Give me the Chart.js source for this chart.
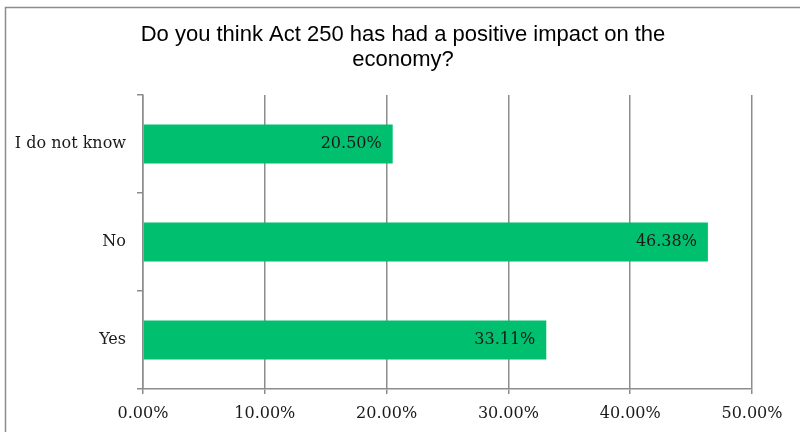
<!DOCTYPE html>
<html>
<head>
<meta charset="utf-8">
<script src="https://cdn.jsdelivr.net/npm/chart.js@4"></script>
<style>
  html, body { margin: 0; padding: 0; background: #fff; overflow: hidden; }
  #wrap { position: relative; width: 800px; height: 432px; }
</style>
</head>
<body>
<div id="wrap"><canvas id="chart" width="800" height="432"></canvas></div>
<script>
// data
const answers = ["I do not know", "No", "Yes"];
const shares = [20.50, 46.38, 33.11];
const titleLines = ["Do you think Act 250 has had a positive impact on the", "economy?"];

const grey = "#8c8c8c";
const serif = "'DejaVu Serif', serif";

// frame around the chart (cropped on the right and bottom)
const framePlugin = {
  id: "frame",
  beforeDraw(chart) {
    const c = chart.ctx;
    c.save();
    c.fillStyle = "#fff";
    c.fillRect(0, 0, chart.width, chart.height);
    c.strokeStyle = grey;
    c.lineWidth = 1.5;
    c.strokeRect(5.5, 7.5, chart.width + 200, chart.height + 200);
    c.restore();
  }
};

// value labels inside the bar ends
const valueLabels = {
  id: "valueLabels",
  afterDatasetsDraw(chart) {
    const c = chart.ctx;
    const meta = chart.getDatasetMeta(0);
    c.save();
    c.font = "16px " + serif;
    c.fillStyle = "#1a1a1a";
    c.textAlign = "right";
    c.textBaseline = "middle";
    meta.data.forEach(function (bar, i) {
      c.fillText(shares[i].toFixed(2) + "%", bar.x - 11, bar.y);
    });
    c.restore();
  }
};

const place = document.getElementById("chart");
const surveyChart = new Chart(place, {
  type: "bar",
  data: {
    labels: answers,
    datasets: [{
      data: shares,
      backgroundColor: "#00bf6f",
      borderWidth: 0,
      barPercentage: 0.4,
      categoryPercentage: 1
    }]
  },
  options: {
    indexAxis: "y",
    responsive: false,
    animation: false,
    layout: { padding: { top: 0, left: 6, right: 0, bottom: 0 } },
    plugins: {
      legend: { display: false },
      tooltip: { enabled: false },
      title: {
        display: true,
        text: titleLines,
        color: "#000",
        font: { family: "'Liberation Sans', Arial, sans-serif", size: 22, weight: "normal", lineHeight: "25px" },
        padding: { top: 22, bottom: 23 }
      }
    },
    scales: {
      x: {
        min: 0,
        max: 50,
        ticks: {
          stepSize: 10,
          color: "#1a1a1a",
          padding: 10,
          maxRotation: 0,
          font: { family: serif, size: 16 },
          callback: function (v) { return v.toFixed(2) + "%"; }
        },
        grid: { color: grey, lineWidth: 1.5, tickLength: 5 },
        border: { color: grey, width: 1.5 },
        afterFit: function (s) { s.height = 43; s.paddingRight = 48; }
      },
      y: {
        ticks: {
          color: "#1a1a1a",
          padding: 11,
          font: { family: serif, size: 16 }
        },
        grid: { drawOnChartArea: false, offset: true, color: grey, lineWidth: 1.5, tickLength: 6 },
        border: { color: grey, width: 1.5 },
        afterFit: function (s) { s.width = 137; }
      }
    }
  },
  plugins: [framePlugin, valueLabels]
});
</script>
</body>
</html>
